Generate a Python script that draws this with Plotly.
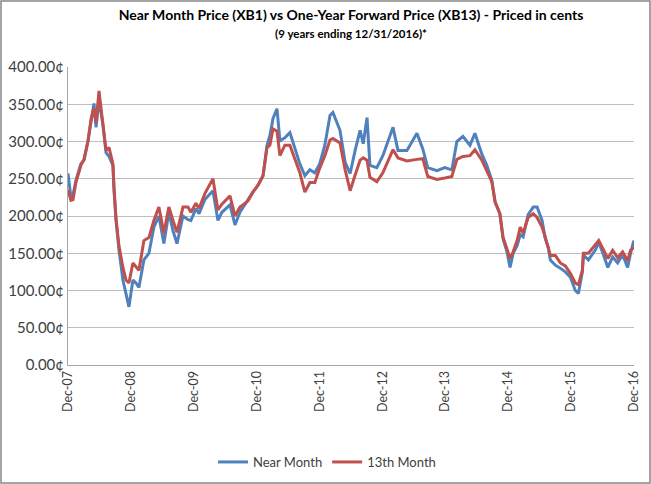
import plotly.graph_objects as go

dates = [
    "2007-12-31", "2008-01-17", "2008-01-29", "2008-02-15", "2008-03-15", "2008-04-02",
    "2008-04-25", "2008-05-13", "2008-05-30", "2008-06-11", "2008-06-28", "2008-07-06",
    "2008-07-21", "2008-08-08", "2008-08-25", "2008-09-17", "2008-09-23", "2008-10-05",
    "2008-10-22", "2008-11-14", "2008-12-02", "2008-12-19", "2009-01-11", "2009-01-29",
    "2009-02-15", "2009-03-16", "2009-04-14", "2009-05-13", "2009-06-11", "2009-07-10",
    "2009-08-08", "2009-09-01", "2009-09-24", "2009-10-29", "2009-11-27", "2009-12-14",
    "2010-01-12", "2010-01-30", "2010-03-05", "2010-04-21", "2010-05-20", "2010-06-12",
    "2010-07-29", "2010-08-27", "2010-09-25", "2010-11-10", "2010-12-09", "2011-01-07",
    "2011-02-06", "2011-03-01", "2011-03-18", "2011-04-05", "2011-04-28", "2011-05-15",
    "2011-06-13", "2011-07-12", "2011-08-10", "2011-09-08", "2011-10-07", "2011-11-05",
    "2011-12-04", "2012-01-01", "2012-01-31", "2012-03-01", "2012-03-18", "2012-04-28",
    "2012-05-28", "2012-06-26", "2012-07-25", "2012-08-23", "2012-09-10", "2012-10-02",
    "2012-10-19", "2012-11-28", "2013-01-02", "2013-02-13", "2013-03-02", "2013-03-31",
    "2013-05-22", "2013-07-19", "2013-08-22", "2013-09-20", "2013-11-12", "2013-12-28",
    "2014-02-07", "2014-03-08", "2014-04-12", "2014-05-23", "2014-06-21", "2014-07-31",
    "2014-08-29", "2014-09-27", "2014-10-16", "2014-11-13", "2014-12-01", "2014-12-24",
    "2015-01-11", "2015-01-29", "2015-02-21", "2015-03-11", "2015-03-28", "2015-04-26",
    "2015-05-26", "2015-06-17", "2015-07-16", "2015-08-03", "2015-08-21", "2015-09-02",
    "2015-10-01", "2015-10-30", "2015-11-28", "2015-12-27", "2016-01-25", "2016-02-12",
    "2016-03-06", "2016-03-12", "2016-04-10", "2016-05-22", "2016-06-09", "2016-07-08",
    "2016-08-01", "2016-08-29", "2016-09-27", "2016-10-26", "2016-11-24", "2016-12-11",
    "2016-12-30",
]

near_month = [
    257, 225, 228, 248, 270, 275,
    301, 328, 351, 319, 355, 345,
    322, 285, 280, 268, 235, 194,
    155, 114, 96, 78, 114, 110,
    104, 141, 150, 185, 200, 163,
    205, 180, 163, 200, 195, 194,
    210, 203, 222, 234, 194, 205,
    215, 188, 205, 222, 232, 241,
    254, 295, 308, 331, 344, 301,
    305, 312, 290, 270, 254, 262,
    258, 270, 295, 335, 339, 315,
    272, 257, 288, 315, 297, 332,
    268, 265, 281, 308, 319, 288,
    288, 311, 290, 265, 261, 265,
    262, 300, 307, 295, 311, 283,
    268, 248, 219, 203, 170, 152,
    131, 150, 160, 175, 172, 202,
    212, 212, 194, 170, 158, 141,
    134, 130, 125, 118, 100, 96,
    125, 148, 141, 155, 165, 147,
    131, 145, 137, 148, 131, 150,
    167,
]

month_13 = [
    235, 221, 222, 245, 268, 276,
    300, 330, 345, 325, 368, 352,
    328, 288, 292, 270, 240, 196,
    160, 131, 114, 110, 137, 131,
    127, 167, 171, 194, 212, 177,
    212, 194, 178, 212, 212, 205,
    217, 210, 230, 250, 208, 216,
    227, 200, 212, 220, 232, 241,
    254, 292, 295, 317, 314, 281,
    295, 295, 277, 258, 232, 245,
    245, 264, 281, 302, 304, 298,
    262, 234, 255, 275, 278, 275,
    252, 246, 258, 280, 289, 278,
    274, 276, 277, 253, 249, 251,
    253, 276, 280, 281, 289, 275,
    260, 246, 219, 203, 172, 156,
    143, 152, 167, 185, 177, 198,
    203, 198, 185, 172, 158, 147,
    147, 137, 133, 123, 110, 108,
    127, 150, 150, 163, 167, 154,
    143, 154, 144, 152, 140, 154,
    158,
]

tick_dates = ["2007-12-31", "2008-12-31", "2009-12-31", "2010-12-31", "2011-12-31",
              "2012-12-31", "2013-12-31", "2014-12-31", "2015-12-31", "2016-12-31"]
tick_labels = ["Dec-07", "Dec-08", "Dec-09", "Dec-10", "Dec-11",
               "Dec-12", "Dec-13", "Dec-14", "Dec-15", "Dec-16"]

FONT = "Lato"
W, H = 651, 484
L, R, T, B = 68, 17, 67, 119
pw, ph = W - L - R, H - T - B

fig = go.Figure()
fig.add_trace(go.Scatter(x=dates, y=near_month, mode="lines", name="Near Month",
                         line=dict(color="#4F81BD", width=3)))
fig.add_trace(go.Scatter(x=dates, y=month_13, mode="lines", name="13th Month",
                         line=dict(color="#C0504D", width=3)))

fig.update_layout(
    width=W, height=H,
    margin=dict(l=L, r=R, t=T, b=B, autoexpand=False),
    paper_bgcolor="white", plot_bgcolor="white",
    font=dict(family=FONT, size=14, color="#404040"),
    title=dict(
        text="<b>Near Month Price (XB1) vs One-Year Forward Price (XB13) - Priced in cents</b>"
             "<br><span style='font-size:11.5px'><b>(9 years ending 12/31/2016)*</b></span>",
        x=0.5, xref="paper", xanchor="center",
        y=1 - 20 / H, yref="container", yanchor="top",
        font=dict(family=FONT, size=14, color="#000000"),
    ),
    showlegend=True,
    legend=dict(orientation="h", x=(327 - L) / pw, xanchor="center",
                y=-(462 - (T + ph)) / ph, yanchor="middle",
                font=dict(family=FONT, size=13, color="#404040"),
                itemwidth=30),
    xaxis=dict(
        type="date",
        range=["2007-12-31", "2016-12-31"],
        tickmode="array", tickvals=tick_dates, ticktext=tick_labels,
        tickangle=-90, showgrid=False,
        showline=True, linecolor="#A6A6A6", linewidth=1,
        ticks="", tickfont=dict(family=FONT, size=12.5, color="#404040"),
    ),
    yaxis=dict(
        range=[0, 400], dtick=50, tickformat=".2f", ticksuffix="¢",
        showgrid=True, gridcolor="#BFBFBF", gridwidth=1,
        showline=True, linecolor="#A6A6A6", linewidth=1,
        zeroline=False, ticks="",
        tickfont=dict(family=FONT, size=15, color="#404040"),
    ),
    shapes=[dict(type="rect", xref="paper", yref="paper",
                 x0=-(L - 1) / pw, x1=1 + (R - 1) / pw,
                 y0=-(B - 1) / ph, y1=1 + (T - 1) / ph,
                 line=dict(color="#868686", width=1.5), fillcolor="rgba(0,0,0,0)",
                 layer="below")],
)

fig.write_html("out.html",
               config={"displayModeBar": False},
               post_script="document.body.style.margin='0';document.body.style.padding='0';")
